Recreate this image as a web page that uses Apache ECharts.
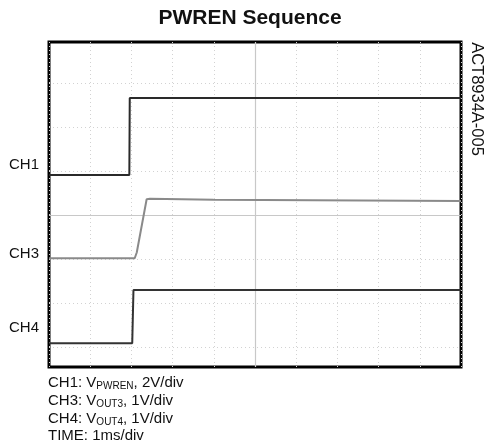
<!DOCTYPE html>
<html>
<head>
<meta charset="utf-8">
<script src="https://cdn.jsdelivr.net/npm/echarts@6/dist/echarts.min.js"></script>
<style>
html,body{margin:0;padding:0;background:#fff;}
#c{width:485px;height:446px;}
</style>
</head>
<body>
<div id="c"></div>
<script>
// Time in divisions (1 ms/div), amplitude in screen divisions from centre line
const titleText = 'PWREN Sequence';
const sideLabel = 'ACT8934A-005';
const channelLabels = ['CH1', 'CH3', 'CH4'];
const channelLabelLevels = [1.14, -0.89, -2.55];
const ch1 = [[0, 0.91], [1.95, 0.91], [1.96, 2.66], [10, 2.66]];
const ch3 = [[0, -0.98], [2.08, -0.98], [2.13, -0.85], [2.37, 0.36], [2.45, 0.37], [4, 0.35], [10, 0.32]];
const ch4 = [[0, -2.91], [2.02, -2.91], [2.05, -1.70], [10, -1.70]];
const hGrid = [-3, -2, -1, 1, 2, 3];
const captionLines = [
  ['CH1: V', 'PWREN', ', 2V/div'],
  ['CH3: V', 'OUT3', ', 1V/div'],
  ['CH4: V', 'OUT4', ', 1V/div'],
  ['TIME: 1ms/div', '', '']
];

const FONT = '"Liberation Sans", Arial, Helvetica, sans-serif';
const chart = echarts.init(document.getElementById('c'));

const Y_MIN = -3.45, Y_MAX = 3.93;
const G = {left: 49, right: 24, top: 42, bottom: 79};
const plotH = 446 - G.top - G.bottom;
function yPix(v){ return G.top + (Y_MAX - v) / (Y_MAX - Y_MIN) * plotH; }

const graphics = [];
graphics.push({
  type: 'text', x: 250, y: 18,
  style: {text: titleText, font: 'bold 21px ' + FONT, fill: '#111', align: 'center', verticalAlign: 'middle'}
});
graphics.push({
  type: 'text', x: 477, y: 99, rotation: -Math.PI / 2,
  style: {text: sideLabel, font: '16.5px ' + FONT, fill: '#111', align: 'center', verticalAlign: 'middle'}
});
channelLabels.forEach((t, i) => {
  graphics.push({
    type: 'text', x: 9, y: yPix(channelLabelLevels[i]),
    style: {text: t, font: '15px ' + FONT, fill: '#111', verticalAlign: 'middle'}
  });
});
captionLines.forEach((parts, i) => {
  let txt = '{m|' + parts[0] + '}';
  if (parts[1]) txt += '{s|' + parts[1] + '}';
  if (parts[2]) txt += '{m|' + parts[2] + '}';
  graphics.push({
    type: 'text', x: 48, y: 383 + i * 17.7,
    style: {
      text: txt, verticalAlign: 'middle', fill: '#111',
      rich: {
        m: {fontSize: 15, fontFamily: FONT, fill: '#111', lineHeight: 18},
        s: {fontSize: 10, fontFamily: FONT, fill: '#111', lineHeight: 18, padding: [7, 0, 0, 0]}
      }
    }
  });
});

const lineSeries = (data, color, width) => ({
  type: 'line', data: data, showSymbol: false, animation: false,
  lineStyle: {color: color, width: width}, z: 5
});

chart.setOption({
  animation: false,
  grid: Object.assign({show: true, borderColor: '#000', borderWidth: 3, backgroundColor: '#fff'}, G),
  xAxis: {
    type: 'value', min: 0, max: 10, interval: 1,
    axisLine: {show: false}, axisTick: {show: false}, axisLabel: {show: false},
    splitLine: {show: true, lineStyle: {color: '#d2d2d2', type: [1, 3], width: 1}}
  },
  yAxis: {
    type: 'value', min: Y_MIN, max: Y_MAX,
    axisLine: {show: false}, axisTick: {show: false}, axisLabel: {show: false},
    splitLine: {show: false}
  },
  series: [
    {
      type: 'line', data: [], silent: true, animation: false,
      markLine: {
        silent: true, symbol: 'none', label: {show: false}, animation: false,
        data: hGrid.map(v => ({yAxis: v, lineStyle: {color: '#d2d2d2', type: [1, 3], width: 1}}))
          .concat([
            {yAxis: 0, lineStyle: {color: '#c8c8c8', type: 'solid', width: 1.2}},
            {xAxis: 5, lineStyle: {color: '#c8c8c8', type: 'solid', width: 1.2}}
          ])
      }
    },
    lineSeries(ch1, '#2a2a2a', 2),
    lineSeries(ch3, '#8a8a8a', 2),
    lineSeries(ch4, '#333333', 2)
  ],
  graphic: graphics
});
</script>
</body>
</html>
